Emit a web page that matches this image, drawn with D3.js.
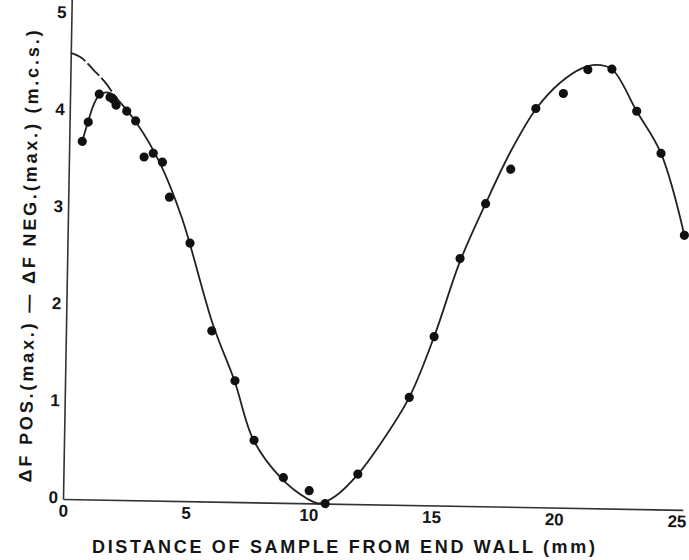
<!DOCTYPE html>
<html>
<head>
<meta charset="utf-8">
<script src="https://cdn.jsdelivr.net/npm/d3@7"></script>
<style>
  body { margin: 0; background: #fff; }
  svg { display: block; }
  .axis path { stroke: #333; stroke-width: 1.6; }
  .axis text { font-family: "Liberation Sans", Arial, sans-serif; font-size: 17px; font-weight: bold; fill: #151515; }
  .label { font-family: "Liberation Sans", Arial, sans-serif; font-size: 18px; font-weight: bold; fill: #151515; }
</style>
</head>
<body>
<div id="chart"></div>
<script>
// measured points
var pointX = [0.53, 0.76, 1.19, 1.63, 1.76, 1.88, 2.32, 2.69, 3.06, 3.43, 3.81, 4.12, 4.99, 5.94, 6.92, 7.74,
    8.96, 10.02, 10.68, 11.99, 14.03, 15.0, 16.0, 17.0, 18.0, 18.98, 20.09, 21.07, 22.05, 23.09, 24.11, 25.12];
var pointY = [3.69, 3.89, 4.18, 4.15, 4.13, 4.07, 4.01, 3.91, 3.54, 3.58, 3.49, 3.13, 2.66, 1.76, 1.25, 0.64,
    0.26, 0.13, 0.0, 0.31, 1.11, 1.74, 2.55, 3.12, 3.48, 4.11, 4.27, 4.52, 4.53, 4.10, 3.67, 2.83];

// fitted curve, broken part near the wall
var extrapX = [0, 0.45, 0.93, 1.4, 1.83];
var extrapY = [4.60, 4.55, 4.43, 4.31, 4.16];

// fitted curve, solid part
var fitX = [1.83, 2.73, 3.71, 4.64, 5.99, 6.9, 7.72, 8.85, 9.93, 10.45, 11.1, 12.0, 12.9, 14.03, 15.0,
    16.0, 17.0, 18.0, 19.0, 19.95, 20.8, 21.4, 22.05, 23.09, 24.11, 25.12];
var fitY = [4.16, 3.89, 3.48, 2.92, 1.82, 1.25, 0.64, 0.26, 0.05, 0.0, 0.08, 0.31, 0.63, 1.11, 1.74,
    2.52, 3.12, 3.67, 4.11, 4.38, 4.53, 4.57, 4.53, 4.10, 3.67, 2.83];

// branch through the points closest to the wall
var branchX = [0.53, 0.76, 0.97, 1.19, 1.5, 1.83];
var branchY = [3.69, 3.90, 4.07, 4.17, 4.20, 4.16];

var xTicks = [0, 5, 10, 15, 20, 25];
var yTicks = [0, 1, 2, 3, 4, 5];

var xTitle = "DISTANCE OF SAMPLE FROM END WALL (mm)";
var yTitle = "\u0394F POS.(max.) \u2014 \u0394F NEG.(max.) (m.c.s.)";

var svg = d3.select("#chart").append("svg")
    .attr("width", 689)
    .attr("height", 560);

// the scan is tilted about one degree
var g = svg.append("g")
    .attr("transform", "translate(63,499) rotate(1)");

var x = d3.scaleLinear().domain([0, 25.25]).range([0, 25.25 * 24.55]);
var y = d3.scaleLinear().domain([0, 5.15]).range([0, -5.15 * 97]);

g.append("g")
    .attr("class", "axis")
    .call(d3.axisBottom(x).tickValues(xTicks).tickFormat(d3.format("d")).tickSize(0).tickPadding(5.5))
    .selectAll("text")
    .attr("fill", "#151515");

g.append("g")
    .attr("class", "axis")
    .call(d3.axisLeft(y).tickValues(yTicks).tickFormat(d3.format("d")).tickSize(0).tickPadding(5))
    .selectAll("text")
    .attr("fill", "#151515")
    .attr("dy", "0.22em");

var line = d3.line()
    .x(function(d) { return x(d[0]); })
    .y(function(d) { return y(d[1]); })
    .curve(d3.curveCatmullRom.alpha(0.5));

function pairs(a, b) { return a.map(function(v, i) { return [v, b[i]]; }); }

g.append("path")
    .datum(pairs(extrapX, extrapY))
    .attr("d", line)
    .attr("fill", "none")
    .attr("stroke", "#222")
    .attr("stroke-width", 1.8)
    .attr("stroke-dasharray", "17,3");

g.append("path")
    .datum(pairs(fitX, fitY))
    .attr("d", line)
    .attr("fill", "none")
    .attr("stroke", "#222")
    .attr("stroke-width", 1.8);

g.append("path")
    .datum(pairs(branchX, branchY))
    .attr("d", line)
    .attr("fill", "none")
    .attr("stroke", "#222")
    .attr("stroke-width", 1.8);

g.append("g")
    .selectAll("circle")
    .data(pairs(pointX, pointY))
    .enter().append("circle")
    .attr("cx", function(d) { return x(d[0]); })
    .attr("cy", function(d) { return y(d[1]); })
    .attr("r", 4.6)
    .attr("fill", "#111");

g.append("text")
    .attr("class", "label")
    .attr("transform", "translate(-32,-242) rotate(-90)")
    .attr("text-anchor", "middle")
    .attr("textLength", 452)
    .attr("lengthAdjust", "spacing")
    .text(yTitle);

svg.append("text")
    .attr("class", "label")
    .attr("x", 343.5)
    .attr("y", 553)
    .attr("text-anchor", "middle")
    .attr("textLength", 503)
    .attr("lengthAdjust", "spacing")
    .text(xTitle);
</script>
</body>
</html>
